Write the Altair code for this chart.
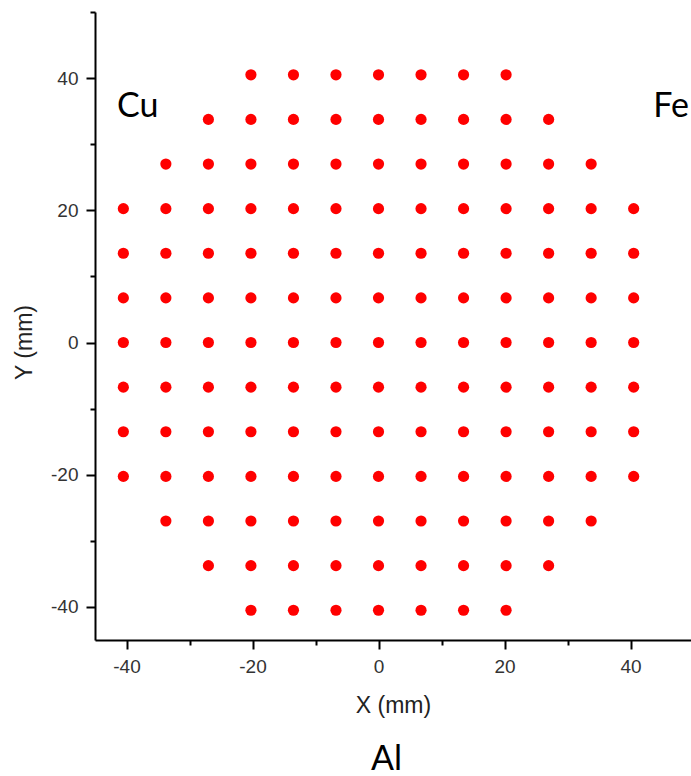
import altair as alt
import pandas as pd

# Measurement grid (mm): column and row positions, plus which columns are used in each row
grid_x = [-40.5, -33.75, -27.0, -20.25, -13.5, -6.75, 0.0, 6.75, 13.5, 20.25, 27.0, 33.75, 40.5]
row_y = [40.5, 33.75, 27.0, 20.25, 13.5, 6.75, 0.0, -6.75, -13.5, -20.25, -27.0, -33.75, -40.5]
row_first_col = [3, 2, 1, 0, 0, 0, 0, 0, 0, 0, 1, 2, 3]
row_last_col = [9, 10, 11, 12, 12, 12, 12, 12, 12, 12, 11, 10, 9]

# Target element labels placed around the wafer
labels = ["Cu", "Fe", "Al"]
label_x = [-41.5, 43.6, -1.2]
label_y = [34.1, 34.1, -64.6]

points = pd.DataFrame(
    [
        {"x": grid_x[c], "y": y}
        for y, a, b in zip(row_y, row_first_col, row_last_col)
        for c in range(a, b + 1)
    ]
)
label_df = pd.DataFrame({"x": label_x, "y": label_y, "text": labels})

x_scale = alt.Scale(domain=[-45, 49.6], nice=False, zero=False)
y_scale = alt.Scale(domain=[-45, 50], nice=False, zero=False)

major_test = "datum.value % 20 === 0"
tick_len = {"condition": {"test": major_test, "value": 9}, "value": 5}
label_expr = f"{major_test} ? '' + datum.value : ''"

common_axis = dict(
    grid=False,
    domainColor="black",
    domainWidth=2,
    tickColor="black",
    tickWidth=2,
    tickSize=tick_len,
    labelExpr=label_expr,
    labelFont="Liberation Sans",
    labelFontSize=19,
    labelColor="#333333",
    labelPadding=8,
    labelOverlap=False,
    titleFont="Liberation Sans",
    titleFontSize=23,
    titleFontWeight="normal",
    titleColor="#222222",
)

x_axis = alt.Axis(
    values=[-40, -30, -20, -10, 0, 10, 20, 30, 40],
    title="X (mm)",
    titleBaseline="middle",
    titleY=65,
    **common_axis,
)
y_axis = alt.Axis(
    values=[-40, -30, -20, -10, 0, 10, 20, 30, 40, 50],
    title="Y (mm)",
    titleAngle=-90,
    titleAlign="center",
    titleBaseline="middle",
    titleX=-71,
    titleY=330,
    **common_axis,
)

dots = (
    alt.Chart(points)
    .mark_circle(size=125, color="#ff0000", opacity=1)
    .encode(
        x=alt.X("x:Q", scale=x_scale, axis=x_axis),
        y=alt.Y("y:Q", scale=y_scale, axis=y_axis),
    )
)

element_text = (
    alt.Chart(label_df)
    .mark_text(
        font="Lato",
        fontSize=34,
        align="left",
        baseline="alphabetic",
        color="black",
    )
    .encode(
        x=alt.X("x:Q", scale=x_scale),
        y=alt.Y("y:Q", scale=y_scale),
        text="text:N",
    )
)

chart = (
    alt.layer(dots, element_text)
    .properties(
        width=596,
        height=628,
        autosize=alt.AutoSizeParams(type="none"),
        padding={"left": 95, "top": 12, "right": 0, "bottom": 136},
    )
    .configure_view(stroke=None)
)

chart.save("out.html", embed_options={"renderer": "svg", "actions": False})
